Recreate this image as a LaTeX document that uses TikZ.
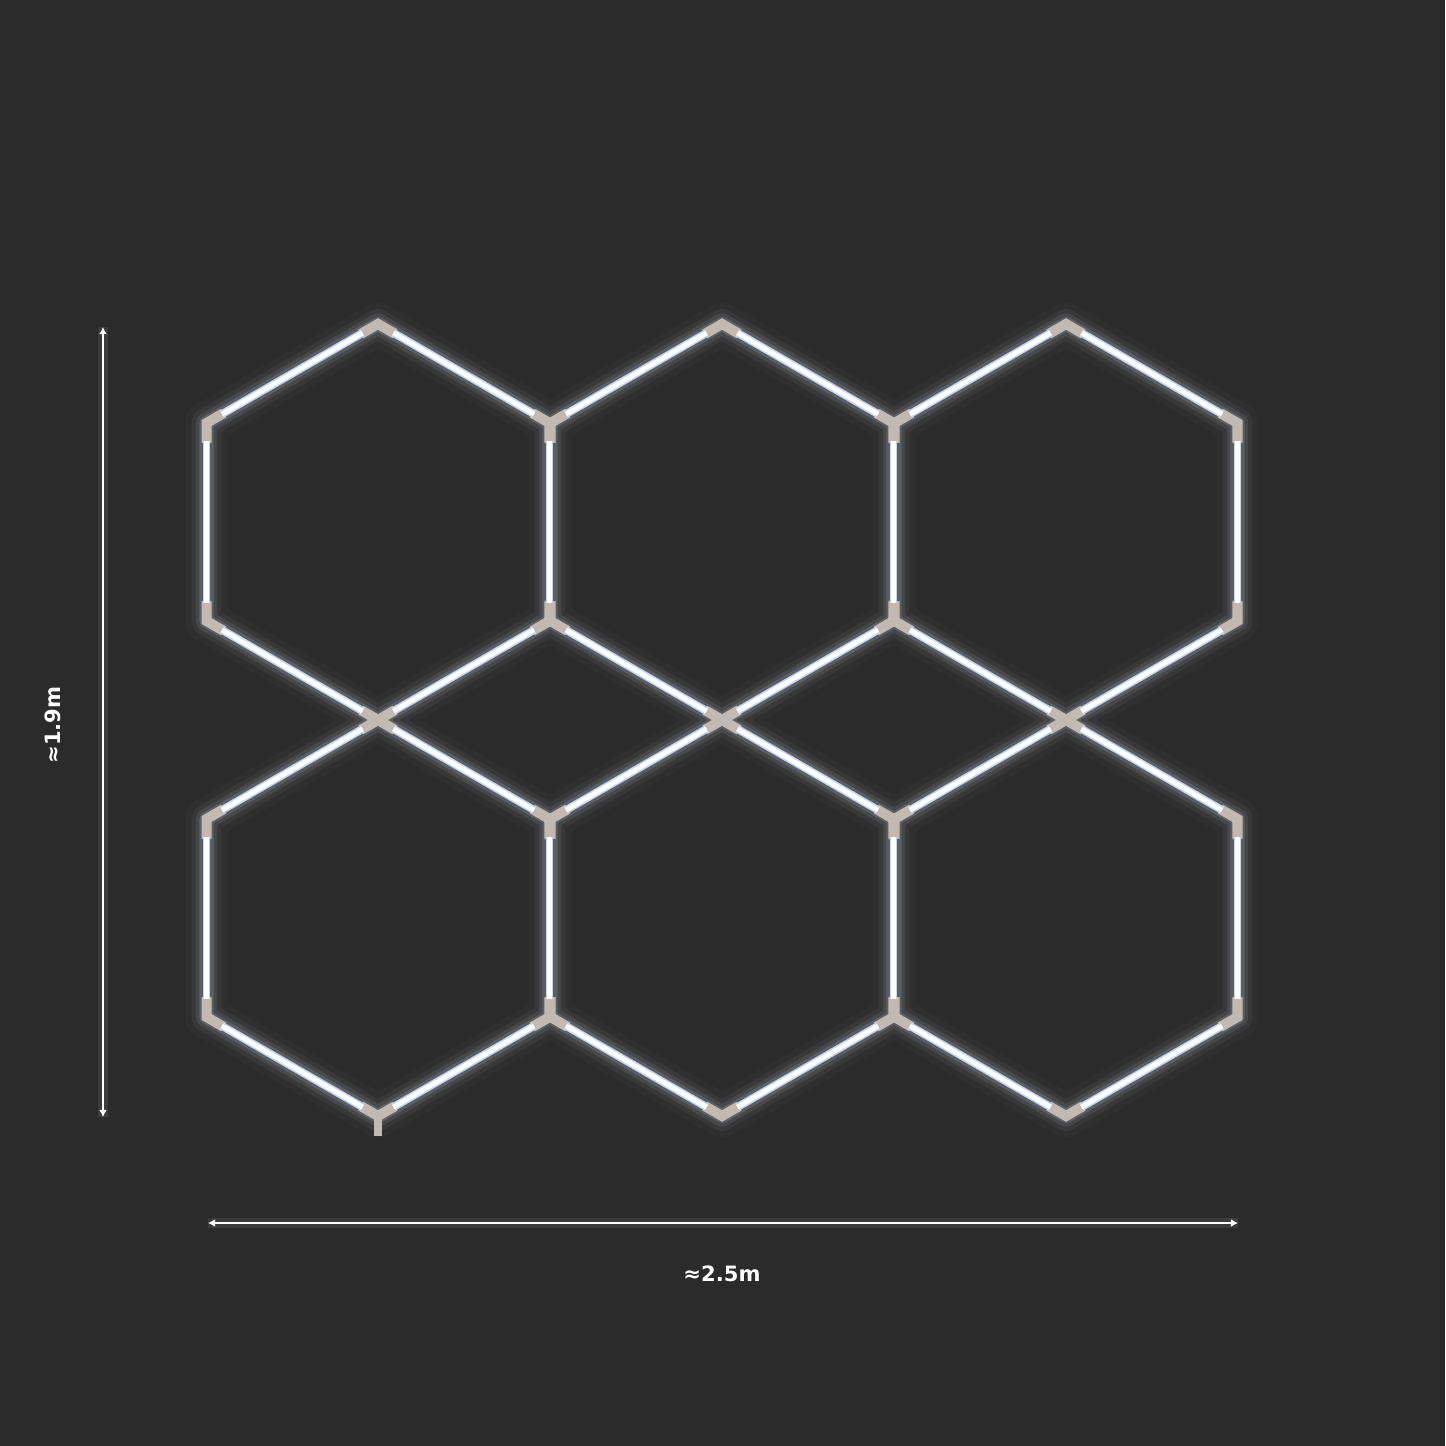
\documentclass[tikz,border=0pt]{standalone}
\usepackage{fontspec}
\setmainfont{DejaVu Sans}
\usetikzlibrary{calc,arrows.meta}

\definecolor{bgcol}{HTML}{2B2B2B}
\definecolor{tubeedge}{HTML}{C6D4F4}
\definecolor{glowcol}{HTML}{E2EAFF}
\definecolor{jointcol}{HTML}{C2BAB2}

\begin{document}
\begin{tikzpicture}[x=0.01cm,y=-0.01cm,
	font=\bfseries\fontsize{6}{7}\selectfont,
	glow/.style={draw=glowcol,line join=round,line cap=round},
	joint/.style={draw=jointcol,line width=2.85pt,line join=miter},
	tubeline/.style={draw=tubeedge,double=white,line width=0.45pt,double distance=1.35pt},
	dimline/.style={draw=white,line width=0.55pt,{Latex[length=2pt,width=2.2pt]}-{Latex[length=2pt,width=2.2pt]}},
	dimlabel/.style={text=white,inner sep=0pt}]

	% background and margins
	\fill[bgcol] (0,0) rectangle (1445,1446);

	% hexagon centres
	\coordinate (c1) at (378,522);
	\coordinate (c2) at (722,522);
	\coordinate (c3) at (1066,522);
	\coordinate (c4) at (378,918);
	\coordinate (c5) at (722,918);
	\coordinate (c6) at (1066,918);

	% corners (0 lower right, 1 bottom, 2 lower left, 3 upper left, 4 top, 5 upper right)
	\foreach \h in {1,...,6}
		\foreach \j in {0,...,5}
			\coordinate (h\h-\j) at ($(c\h)+(30+60*\j:198)$);

	% glow
	\foreach \w/\o in {12pt/0.025,8.5pt/0.05,6pt/0.09,4pt/0.14}
		\draw[glow,line width=\w,opacity=\o]
			\foreach \h in {1,...,6}{ (h\h-0) -- (h\h-1) -- (h\h-2) -- (h\h-3) -- (h\h-4) -- (h\h-5) -- cycle };

	% connectors at the corners
	\foreach \h in {1,...,6}
		\foreach \p/\j/\n in {5/0/1,0/1/2,1/2/3,2/3/4,3/4/5,4/5/0}
			\draw[joint] ($(h\h-\j)!0.1!(h\h-\p)$) -- (h\h-\j) -- ($(h\h-\j)!0.1!(h\h-\n)$);
	\draw[joint,line width=2.3pt] (h4-1) -- ++(0,20);

	% light tubes
	\foreach \h in {1,...,6}
		\foreach \a/\b in {0/1,1/2,3/4,4/5,5/0}
			\draw[tubeline] ($(h\h-\a)!0.09!(h\h-\b)$) -- ($(h\h-\b)!0.09!(h\h-\a)$);
	\foreach \h in {1,4}
		\draw[tubeline] ($(h\h-2)!0.09!(h\h-3)$) -- ($(h\h-3)!0.09!(h\h-2)$);

	% dimensions
	\coordinate (htop) at (103,327);
	\coordinate (hbot) at (103,1117);
	\coordinate (wleft) at (208,1223);
	\coordinate (wright) at (1238,1223);

	\draw[white,opacity=0.08,line width=3pt] (htop) -- (hbot);
	\draw[white,opacity=0.08,line width=3pt] (wleft) -- (wright);
	\draw[dimline] (htop) -- (hbot);
	\draw[dimline] (wleft) -- (wright);

	\node[dimlabel,rotate=90] (hlabel) at (53,725) {≈1.9m};
	\node[dimlabel] (wlabel) at (722,1274) {≈2.5m};
\end{tikzpicture}
\end{document}
